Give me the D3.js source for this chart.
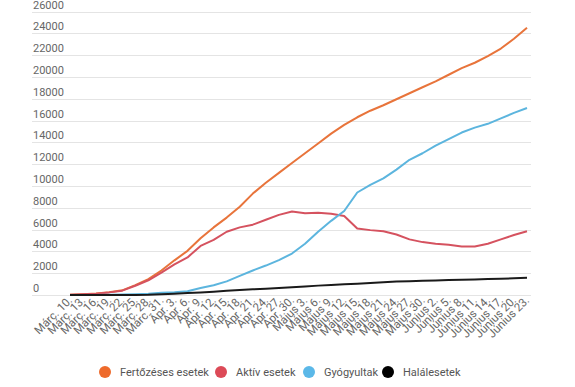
<!DOCTYPE html>
<html>
<head>
<meta charset="utf-8">
<script src="https://cdn.jsdelivr.net/npm/d3@7"></script>
<style>
  body { margin: 0; background: #fff; }
  svg { display: block; font-family: Roboto, "Noto Sans", sans-serif; }
</style>
</head>
<body>
<div id="chart"></div>
<script>
const width = 575;
const height = 387;

// dátumok (3 naponként)
const dates = ["Márc. 10.", "Márc. 13.", "Márc. 16.", "Márc. 19.", "Márc. 22.", "Márc. 25.", "Márc. 28.", "Márc. 31.",
  "Ápr. 3.", "Ápr. 6.", "Ápr. 9.", "Ápr. 12.", "Ápr. 15.", "Ápr. 18.", "Ápr. 21.", "Ápr. 24.", "Ápr. 27.", "Ápr. 30.",
  "Május 3.", "Május 6.", "Május 9.", "Május 12.", "Május 15.", "Május 18.", "Május 21.", "Május 24.", "Május 27.", "Május 30.",
  "Június 2.", "Június 5.", "Június 8.", "Június 11.", "Június 14.", "Június 17.", "Június 20.", "Június 23."];

const fertozes = [20, 80, 130, 260, 430, 900, 1450, 2250, 3180, 4050, 5200, 6200, 7100, 8100, 9300, 10300, 11200, 12100,
  13000, 13900, 14800, 15600, 16300, 16900, 17400, 17950, 18500, 19050, 19600, 20200, 20800, 21300, 21900, 22600, 23500, 24500];
const aktiv = [20, 75, 120, 240, 400, 850, 1350, 2050, 2800, 3450, 4500, 5050, 5800, 6200, 6450, 6900, 7350, 7650,
  7500, 7550, 7450, 7250, 6100, 5950, 5850, 5550, 5100, 4850, 4700, 4600, 4450, 4450, 4700, 5100, 5500, 5850];
const gyogyult = [0, 5, 10, 20, 50, 80, 120, 200, 250, 350, 650, 900, 1250, 1750, 2250, 2700, 3200, 3800,
  4700, 5800, 6800, 7700, 9400, 10100, 10700, 11500, 12400, 13000, 13700, 14300, 14900, 15350, 15700, 16200, 16700, 17150];
const halal = [0, 0, 0, 0, 5, 10, 25, 70, 120, 180, 230, 300, 380, 450, 520, 580, 640, 710,
  780, 860, 920, 980, 1040, 1100, 1170, 1230, 1270, 1300, 1330, 1370, 1400, 1430, 1460, 1490, 1530, 1580];

const yTicks = d3.range(0, 26001, 2000);

const series = [
  { name: "Fertőzéses esetek", values: fertozes, line: "#e8743b", dot: "#ee6a2b" },
  { name: "Aktív esetek", values: aktiv, line: "#d5525f", dot: "#dc4a57" },
  { name: "Gyógyultak", values: gyogyult, line: "#5cb5de", dot: "#5bb8e8" },
  { name: "Halálesetek", values: halal, line: "#1a1a1a", dot: "#000000" }
];

const x = d3.scalePoint().domain(dates).range([70, 527]);
const y = d3.scaleLinear().domain([0, 26000]).range([295, 11.5]);

const svg = d3.select("#chart").append("svg")
    .attr("width", width)
    .attr("height", height);

// rácsvonalak + címkék
const grid = svg.append("g");
grid.selectAll("line")
  .data(yTicks)
  .join("line")
    .attr("x1", 32).attr("x2", 531)
    .attr("y1", d => Math.round(y(d)) + 0.5)
    .attr("y2", d => Math.round(y(d)) + 0.5)
    .attr("stroke", "#e4e4e4")
    .attr("stroke-width", 1);
grid.selectAll("text")
  .data(yTicks)
  .join("text")
    .attr("x", 33)
    .attr("y", d => y(d) - 3)
    .attr("font-size", 11)
    .attr("fill", "#666")
    .text(d => d);

// x tengely címkék
svg.append("g")
  .selectAll("text")
  .data(dates)
  .join("text")
    .attr("transform", d => `translate(${x(d) + 3},301) rotate(-45)`)
    .attr("text-anchor", "end")
    .attr("font-size", 11.5)
    .attr("fill", "#666")
    .text(d => d);

// vonalak
const line = d3.line()
    .x((d, i) => x(dates[i]))
    .y(d => y(d));

svg.append("g")
  .selectAll("path")
  .data(series)
  .join("path")
    .attr("fill", "none")
    .attr("stroke", d => d.line)
    .attr("stroke-width", 2)
    .attr("stroke-linejoin", "round")
    .attr("d", d => line(d.values));

// jelmagyarázat
const legendX = [105, 221, 309, 388];
const legend = svg.append("g")
  .selectAll("g")
  .data(series)
  .join("g")
    .attr("transform", (d, i) => `translate(${legendX[i]},372)`);
legend.append("circle")
    .attr("r", 6)
    .attr("fill", d => d.dot);
legend.append("text")
    .attr("x", 15)
    .attr("dy", "0.35em")
    .attr("font-size", 11)
    .attr("fill", "#555")
    .text(d => d.name);
</script>
</body>
</html>
